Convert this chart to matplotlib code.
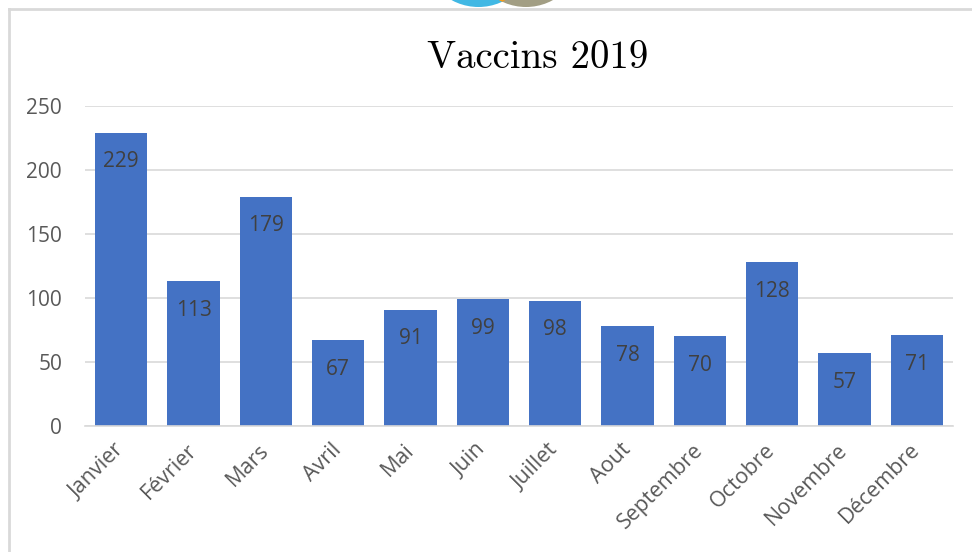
import matplotlib
matplotlib.use("Agg")
import matplotlib.pyplot as plt
from matplotlib.patches import Circle
from matplotlib.lines import Line2D

months = ["Janvier", "Février", "Mars", "Avril", "Mai", "Juin", "Juillet",
          "Aout", "Septembre", "Octobre", "Novembre", "Décembre"]
values = [229, 113, 179, 67, 91, 99, 98, 78, 70, 128, 57, 71]
yticks = [0, 50, 100, 150, 200, 250]
title = "Vaccins 2019"

W, H = 972, 552
fig = plt.figure(figsize=(W / 100, H / 100), dpi=100)
fig.patch.set_facecolor("white")

# background decoration (frame + circles) in pixel coordinates
bg = fig.add_axes([0, 0, 1, 1], zorder=0)
bg.set_xlim(0, W)
bg.set_ylim(H, 0)
bg.axis("off")
bg.add_patch(Circle((478.5, -49), 56, color="#41b8e4", lw=0))
bg.add_patch(Circle((526, -49), 56, color="#a29e84", lw=0))
clip = Circle((478.5, -49), 56, transform=bg.transData)
ov = Circle((526, -49), 56, color="#f59c1a", lw=0)
bg.add_patch(ov)
ov.set_clip_path(clip)
bg.add_line(Line2D([8.5, 8.5], [8.5, H], color="#d9d9d9", lw=2))
bg.add_line(Line2D([8.5, W], [8.5, 8.5], color="#d9d9d9", lw=2))

left, right = 85 / W, 953 / W
bottom, top = 1 - 426 / H, 1 - 106 / H
ax = fig.add_axes([left, bottom, right - left, top - bottom], zorder=1)
ax.patch.set_alpha(0)

x = list(range(len(months)))
ax.bar(x, values, width=0.72, color="#4472c4", zorder=2)
ax.set_xlim(-0.5, len(months) - 0.5)
ax.set_ylim(0, 250)
ax.set_yticks(yticks)
ax.set_yticklabels([str(t) for t in yticks])
ax.grid(axis="y", color="#d9d9d9", lw=1.2, zorder=0)
for s in ["top", "right", "left"]:
    ax.spines[s].set_visible(False)
ax.spines["bottom"].set_color("#d9d9d9")
ax.spines["bottom"].set_linewidth(1.2)
ax.tick_params(axis="both", length=0, colors="#595959", labelsize=15)
ax.tick_params(axis="y", pad=16.5)
for lab in ax.get_yticklabels():
    lab.set_fontfamily("Open Sans")

ax.set_xticks(x)
ax.set_xticklabels(months, rotation=45, ha="right", va="center",
                   rotation_mode="anchor", fontfamily="Open Sans", fontsize=15.5)
ax.tick_params(axis="x", pad=15)

for xi, v in zip(x, values):
    ax.annotate(str(v), (xi, v), xytext=(0, -29), textcoords="offset pixels",
                ha="center", va="center", fontsize=15, color="#404040",
                fontfamily="Open Sans", zorder=3)

fig.text(538 / W, 1 - 58 / H, title, ha="center", va="center",
         fontsize=28, fontfamily="cmr10", color="black")

fig.savefig("out.png", dpi=100)
